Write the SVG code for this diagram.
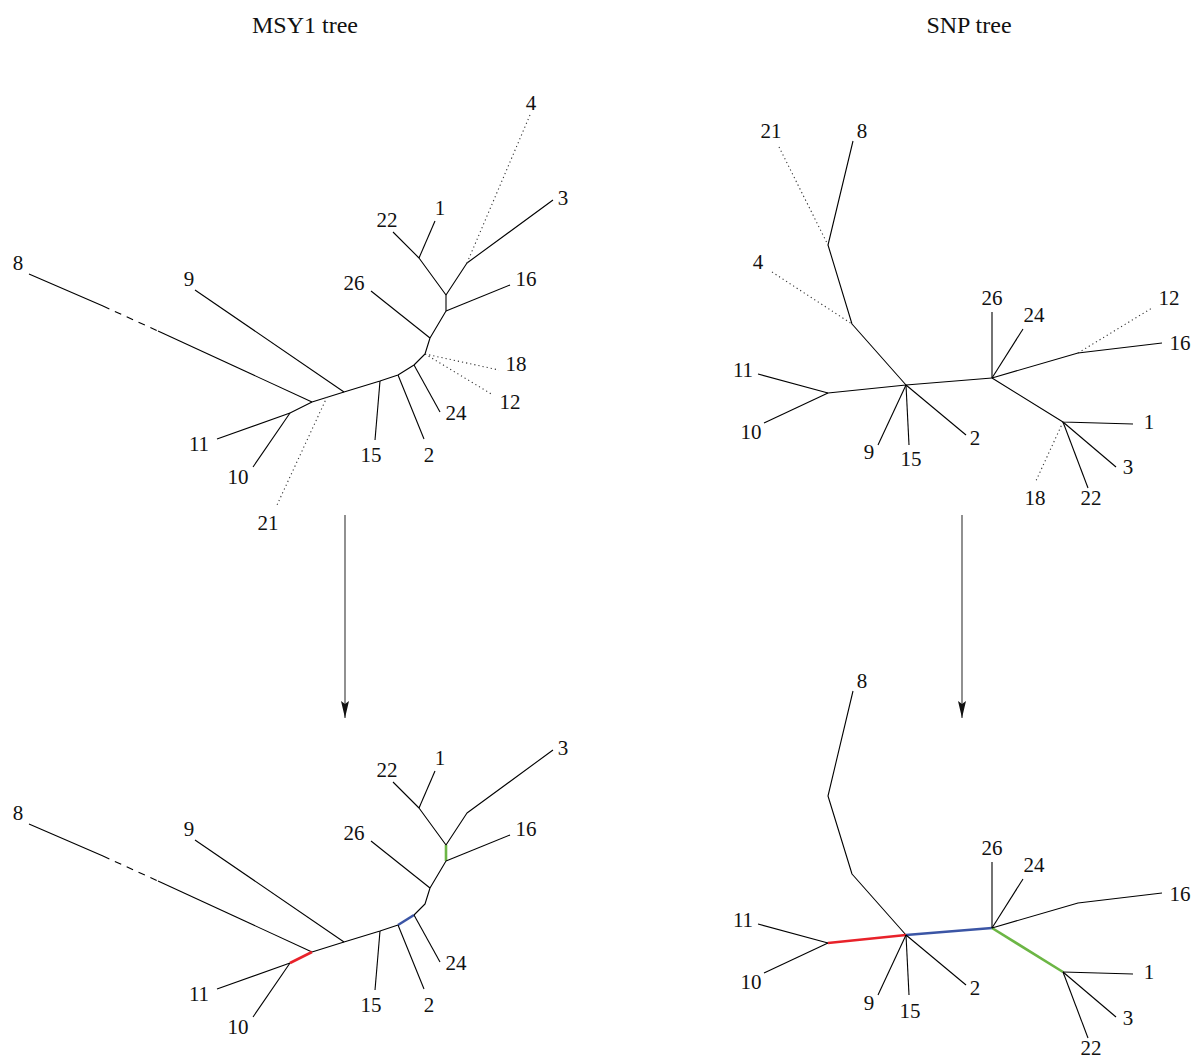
<svg xmlns="http://www.w3.org/2000/svg" width="1196" height="1059" viewBox="0 0 1196 1059">
<style>
text{font-family:"Liberation Serif","Times New Roman",serif;font-size:21px;fill:#111;text-anchor:middle}
.title{font-size:24px}
.e{stroke:#000;stroke-width:1.1;fill:none;stroke-linejoin:round}
.dot{stroke:#333;stroke-width:1.1;fill:none;stroke-dasharray:1.2 3}
.dash{stroke:#000;stroke-width:1.1;fill:none;stroke-dasharray:7 6}
.red{stroke:#e8222a;stroke-width:2.6;fill:none}
.blue{stroke:#3b55a5;stroke-width:2.6;fill:none}
.green{stroke:#6cb645;stroke-width:2.6;fill:none}
.arr{stroke:#555;stroke-width:1.3;fill:none}
</style>
<defs>
<marker id="ah" markerWidth="18" markerHeight="8" refX="17" refY="4" orient="auto" markerUnits="userSpaceOnUse" viewBox="0 0 18 8">
<path d="M0,0 L3,4 L0,8 L17,4 Z" fill="#111"/>
</marker>
</defs>
<g id="titles">
<text class="title" x="305" y="33">MSY1 tree</text>
<text class="title" x="969" y="33">SNP tree</text>
</g>
<g id="connectors">
<!-- top-left MSY1 tree -->
<polyline class="e" points="29,274 103,306"/>
<polyline class="dash" points="103,306 158,331"/>
<polyline class="e" points="158,331 312,402"/>
<polyline class="e" points="195,290 344,392"/>
<polyline class="e" points="290,413 312,402 344,392 380,381 398,375 414,365 425,354 430,338 446,311 446,295"/>
<polyline class="e" points="217,439 290,413"/>
<polyline class="e" points="253,467 290,413"/>
<polyline class="dot" points="327,397 277,505"/>
<polyline class="e" points="380,381 375,440"/>
<polyline class="e" points="398,375 424,439"/>
<polyline class="e" points="414,365 440,412"/>
<polyline class="dot" points="425,354 499,370"/>
<polyline class="dot" points="425,354 493,395"/>
<polyline class="e" points="371,291 430,338"/>
<polyline class="e" points="446,311 510,285"/>
<polyline class="e" points="446,295 419,258 393,232"/>
<polyline class="e" points="419,258 435,221"/>
<polyline class="e" points="446,295 467,263 553,200"/>
<polyline class="dot" points="467,263 530,115"/>
<!-- bottom-left MSY1 tree -->
<polyline class="e" points="29,824 103,856"/>
<polyline class="dash" points="103,856 158,881"/>
<polyline class="e" points="158,881 312,952"/>
<polyline class="e" points="195,840 344,942"/>
<polyline class="e" points="312,952 344,942 380,931 398,925"/>
<polyline class="e" points="414,915 425,904 430,888 446,861"/>
<polyline class="e" points="217,989 290,963"/>
<polyline class="e" points="253,1017 290,963"/>
<polyline class="red" points="290,963 312,952"/>
<polyline class="blue" points="398,925 414,915"/>
<polyline class="green" points="446,861 446,845"/>
<polyline class="e" points="380,931 375,990"/>
<polyline class="e" points="398,925 424,989"/>
<polyline class="e" points="414,915 440,962"/>
<polyline class="e" points="371,841 430,888"/>
<polyline class="e" points="446,861 510,835"/>
<polyline class="e" points="446,845 419,808 393,782"/>
<polyline class="e" points="419,808 435,771"/>
<polyline class="e" points="446,845 467,813 553,750"/>
<!-- top-right SNP tree -->
<polyline class="e" points="853,141 828,245 852,324 906,385"/>
<polyline class="dot" points="779,147 828,245"/>
<polyline class="dot" points="772,272 852,324"/>
<polyline class="e" points="758,374 828,393 906,385"/>
<polyline class="e" points="764,423 828,393"/>
<polyline class="e" points="878,445 906,385"/>
<polyline class="e" points="909,445 906,385"/>
<polyline class="e" points="966,435 906,385"/>
<polyline class="e" points="906,385 992,378"/>
<polyline class="e" points="992,312 992,378"/>
<polyline class="e" points="1023,329 992,378"/>
<polyline class="e" points="992,378 1078,353 1162,343"/>
<polyline class="dot" points="1078,353 1152,308"/>
<polyline class="e" points="992,378 1063,422 1133,424"/>
<polyline class="e" points="1063,422 1116,467"/>
<polyline class="e" points="1063,422 1088,488"/>
<polyline class="dot" points="1063,422 1035,483"/>
<!-- bottom-right SNP tree -->
<polyline class="e" points="853,691 828,796 852,874 906,935"/>
<polyline class="e" points="758,924 828,943"/>
<polyline class="e" points="764,973 828,943"/>
<polyline class="red" points="828,943 906,935"/>
<polyline class="blue" points="906,935 992,928"/>
<polyline class="green" points="992,928 1063,972"/>
<polyline class="e" points="878,995 906,935"/>
<polyline class="e" points="909,995 906,935"/>
<polyline class="e" points="966,985 906,935"/>
<polyline class="e" points="992,862 992,928"/>
<polyline class="e" points="1023,879 992,928"/>
<polyline class="e" points="992,928 1078,903 1162,893"/>
<polyline class="e" points="1063,972 1133,974"/>
<polyline class="e" points="1063,972 1116,1017"/>
<polyline class="e" points="1063,972 1088,1038"/>
<!-- arrows -->
<line class="arr" x1="345" y1="515" x2="345" y2="718" marker-end="url(#ah)"/>
<line class="arr" x1="962" y1="515" x2="962" y2="718" marker-end="url(#ah)"/>
</g>
<g id="labels-msy1-top">
<text x="18" y="270">8</text>
<text x="189" y="286">9</text>
<text x="387" y="227">22</text>
<text x="440" y="215">1</text>
<text x="531" y="110">4</text>
<text x="563" y="205">3</text>
<text x="526" y="286">16</text>
<text x="354" y="290">26</text>
<text x="516" y="371">18</text>
<text x="510" y="409">12</text>
<text x="456" y="420">24</text>
<text x="429" y="462">2</text>
<text x="371" y="462">15</text>
<text x="199" y="451">11</text>
<text x="238" y="484">10</text>
<text x="268" y="530">21</text>
</g>
<g id="labels-msy1-bottom">
<text x="18" y="820">8</text>
<text x="189" y="836">9</text>
<text x="387" y="777">22</text>
<text x="440" y="765">1</text>
<text x="563" y="755">3</text>
<text x="526" y="836">16</text>
<text x="354" y="840">26</text>
<text x="456" y="970">24</text>
<text x="429" y="1012">2</text>
<text x="371" y="1012">15</text>
<text x="199" y="1001">11</text>
<text x="238" y="1034">10</text>
</g>
<g id="labels-snp-top">
<text x="771" y="138">21</text>
<text x="862" y="138">8</text>
<text x="758" y="269">4</text>
<text x="743" y="377">11</text>
<text x="751" y="439">10</text>
<text x="869" y="459">9</text>
<text x="911" y="466">15</text>
<text x="975" y="445">2</text>
<text x="992" y="305">26</text>
<text x="1034" y="322">24</text>
<text x="1169" y="305">12</text>
<text x="1180" y="350">16</text>
<text x="1149" y="429">1</text>
<text x="1128" y="474">3</text>
<text x="1091" y="505">22</text>
<text x="1035" y="505">18</text>
</g>
<g id="labels-snp-bottom">
<text x="862" y="688">8</text>
<text x="743" y="927">11</text>
<text x="751" y="989">10</text>
<text x="869" y="1010">9</text>
<text x="910" y="1018">15</text>
<text x="975" y="995">2</text>
<text x="992" y="855">26</text>
<text x="1034" y="872">24</text>
<text x="1180" y="901">16</text>
<text x="1149" y="979">1</text>
<text x="1128" y="1025">3</text>
<text x="1091" y="1055">22</text>
</g>
</svg>
